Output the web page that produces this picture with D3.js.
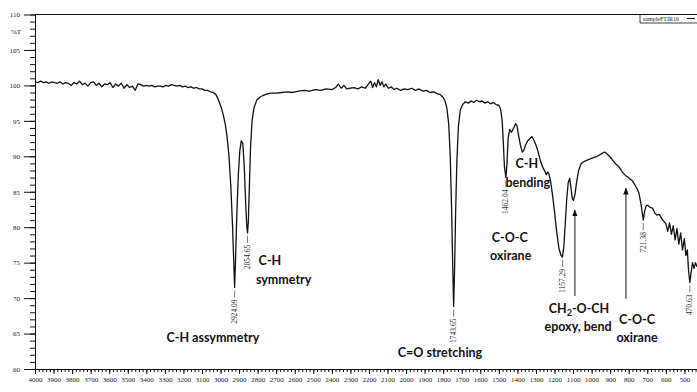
<!DOCTYPE html>
<html>
<head>
<meta charset="utf-8">
<script src="https://cdn.jsdelivr.net/npm/d3@7"></script>
<style>
  body { margin: 0; background: #fff; }
  svg { display: block; }
  .tick text { font-family: "Liberation Serif", serif; font-size: 7px; fill: #222; }
  .note { font-family: Lato, "Open Sans", sans-serif; font-weight: 700; font-size: 12.5px; fill: #111; }
  .peak { font-family: "Liberation Serif", serif; font-size: 7.5px; fill: #333; }
</style>
</head>
<body>
<div id="chart"></div>
<script>
// spectrum, wavenumber (cm-1) vs %T
const wavenumber = [
  4000, 3985, 3970, 3955, 3940, 3925, 3910, 3895, 3880, 3865, 3850, 3835, 3820, 3805, 3790, 3775,
  3760, 3745, 3730, 3715, 3700, 3685, 3670, 3655, 3640, 3625, 3610, 3595, 3580, 3565, 3550, 3535,
  3520, 3505, 3490, 3475, 3460, 3445, 3430, 3415, 3400, 3385, 3370, 3355, 3340, 3325, 3310, 3295,
  3280, 3265, 3250, 3235, 3220, 3205, 3190, 3175, 3160, 3145, 3130, 3115, 3100, 3085, 3070, 3055,
  3040, 3025, 3015, 3005, 2995, 2985, 2975, 2965, 2955, 2945, 2935, 2928, 2924.09, 2919, 2912, 2904,
  2896, 2888, 2880, 2872, 2864, 2858, 2854.65, 2850, 2845, 2838, 2830, 2820, 2805, 2785, 2760, 2730,
  2700, 2670, 2640, 2610, 2580, 2550, 2520, 2490, 2460, 2430, 2400, 2380, 2365, 2350, 2335, 2320,
  2300, 2280, 2260, 2240, 2220, 2205, 2190, 2180, 2170, 2160, 2150, 2140, 2130, 2120, 2110, 2095,
  2080, 2065, 2050, 2030, 2010, 1990, 1970, 1950, 1930, 1910, 1890, 1870, 1850, 1830, 1815, 1800,
  1790, 1780, 1770, 1762, 1755, 1749, 1743.65, 1739, 1733, 1726, 1718, 1708, 1695, 1680, 1665, 1650,
  1635, 1620, 1605, 1590, 1575, 1560, 1545, 1530, 1515, 1500, 1490, 1482, 1476, 1470, 1462.04, 1456,
  1450, 1442, 1432, 1420, 1410, 1402, 1394, 1384, 1374, 1366, 1356, 1344, 1332, 1322, 1312, 1300,
  1288, 1276, 1264, 1252, 1244, 1237, 1230, 1222, 1212, 1200, 1188, 1176, 1165, 1157.29, 1150, 1142,
  1134, 1126, 1118, 1111, 1104, 1098, 1090, 1080, 1070, 1058, 1045, 1030, 1010, 990, 970, 950,
  930, 915, 900, 885, 870, 855, 840, 828, 818, 806, 794, 782, 770, 758, 746, 736,
  728, 721.38, 714, 706, 697, 685, 672, 660, 648, 635, 622, 610, 600, 590, 580, 570,
  560, 550, 540, 530, 520, 510, 500, 492, 484, 478, 470.63, 464, 456, 448, 440, 432
];
const transmittance = [
  100.5, 100.4, 100.6, 100.4, 100.5, 100.3, 100.5, 100.4, 100.3, 100.5, 100.2, 100.4, 100.3, 100.0, 100.4, 100.2,
  100.6, 100.1, 100.3, 99.9, 100.4, 100.5, 100.0, 100.3, 99.8, 100.2, 100.1, 100.4, 99.7, 100.2, 99.9, 100.3,
  99.6, 100.1, 99.7, 99.9, 99.3, 100.2, 100.1, 99.9, 100.0, 99.9, 100.0, 99.8, 99.9, 99.9, 99.8, 100.0,
  99.9, 100.1, 100.0, 99.9, 100.0, 99.8, 99.9, 99.7, 99.8, 99.6, 99.7, 99.5, 99.5, 99.3, 99.3, 99.1,
  99.0, 98.7, 98.2, 97.5, 96.8, 95.8, 94.6, 92.8, 90.2, 86.0, 80.0, 74.5, 71.5, 75.5, 82.0, 87.5,
  90.8, 92.2, 91.8, 88.5, 83.0, 80.0, 79.2, 80.8, 85.5, 91.5, 95.0, 96.8, 97.9, 98.4, 98.7, 98.9,
  98.9, 99.0, 99.1, 99.0, 99.2, 99.3, 99.2, 99.4, 99.3, 99.5, 99.4, 99.7, 100.2, 99.6, 100.0, 99.5,
  99.6, 99.7, 99.5, 99.8, 99.6, 100.1, 100.6, 99.7, 100.4, 99.8, 100.8, 100.0, 100.5, 99.8, 100.2, 99.6,
  99.8, 99.4, 99.6, 99.3, 99.5, 99.4, 99.6, 99.3, 99.5, 99.2, 99.3, 99.0, 99.1, 98.8, 98.7, 98.3,
  97.8, 96.8, 94.5, 90.0, 83.0, 75.0, 68.8, 73.5, 82.0, 89.5, 94.2, 96.5, 97.3, 97.7, 97.5, 97.8,
  97.6, 97.9, 97.7, 97.8, 97.5, 97.7, 97.4, 97.6, 97.3, 97.2, 96.6, 95.0, 92.0, 88.6, 87.0, 89.0,
  92.5, 93.8, 93.4, 94.0, 94.6, 94.3, 93.0, 91.6, 90.6, 90.8, 91.6, 92.2, 92.5, 92.8, 92.3, 91.6,
  90.6, 89.4, 88.5, 87.9, 87.4, 87.8, 87.5, 86.6, 84.8, 82.2, 79.3, 77.0, 76.0, 75.8, 77.2, 80.5,
  84.0, 86.3, 86.9, 85.5, 84.0, 83.8, 84.6, 86.5, 88.0, 88.9, 89.2, 89.4, 89.6, 89.8, 90.0, 90.3,
  90.6, 90.3, 89.9, 89.4, 88.9, 88.6, 88.0, 87.6, 87.3, 87.1, 86.8, 86.6, 86.1, 85.6, 84.9, 83.6,
  82.2, 81.0, 82.3, 83.0, 83.1, 82.8, 82.7, 82.0, 81.7, 81.8, 81.2, 80.8, 80.5, 79.4, 80.6, 79.0,
  80.2, 78.2, 79.8, 77.6, 79.2, 76.8, 78.4, 76.0, 76.8, 74.0, 72.2, 73.6, 75.0, 74.2, 75.0, 74.4
];

// picked peaks
const peakWavenumbers = [2924.09, 2854.65, 1743.65, 1462.04, 1157.29, 721.38, 470.63];
const peakLabels = ['2924.09', '2854.65', '1743.65', '1462.04', '1157.29', '721.38', '470.63'];

// axis ticks
const xMajorTicks = d3.range(4000, 499, -100);
const xMinorTicks = d3.range(4000, 431, -20);
const yMajorTicks = d3.range(60, 111, 5);
const yMinorTicks = d3.range(60, 111, 1);

// band assignments: text lines anchored at (wavenumber, %T)
const noteLines = [
  { text: 'C-H assymmetry', wn: 3041, t: 63.8 },
  { text: 'C-H', wn: 2734, t: 74.7 },
  { text: 'symmetry', wn: 2660, t: 72.0 },
  { text: 'C=O stretching', wn: 1817, t: 61.7 },
  { text: 'C-H', wn: 1349, t: 88.3 },
  { text: 'bending', wn: 1344, t: 85.7 },
  { text: 'C-O-C', wn: 1441, t: 77.9 },
  { text: 'oxirane', wn: 1436, t: 75.4 },
  { text: 'CH|2|-O-CH', wn: 1068, t: 67.9 },
  { text: 'epoxy, bend', wn: 1073, t: 65.4 },
  { text: 'C-O-C', wn: 755, t: 66.35 },
  { text: 'oxirane', wn: 755, t: 63.8 }
];
const arrows = [
  { wn: 1090, from: 70.3, to: 82.4 },
  { wn: 815, from: 69.9, to: 85.5 }
];

const W = 697, H = 392;
const svg = d3.select('#chart').append('svg').attr('width', W).attr('height', H);

const x = d3.scaleLinear().domain([4000, 432]).range([35, 697]);
const y = d3.scaleLinear().domain([60, 110]).range([369, 14.5]);

svg.append('defs').append('marker')
  .attr('id', 'head').attr('viewBox', '0 0 10 10').attr('refX', 9).attr('refY', 5)
  .attr('markerWidth', 7).attr('markerHeight', 7).attr('orient', 'auto')
  .append('path').attr('d', 'M0,1 L10,5 L0,9 Z').attr('fill', '#111');

// x axis
svg.append('g').attr('transform', `translate(0,${y(60)})`)
  .call(d3.axisBottom(x).tickValues(xMinorTicks).tickSize(3).tickSizeOuter(0).tickFormat(''));
svg.append('g').attr('transform', `translate(0,${y(60)})`)
  .call(d3.axisBottom(x).tickValues(xMajorTicks).tickSize(5).tickSizeOuter(0).tickPadding(3).tickFormat(d3.format('d')));

// y axis
svg.append('g').attr('transform', `translate(${x(4000)},0)`)
  .call(d3.axisLeft(y).tickValues(yMinorTicks).tickSize(5).tickSizeOuter(0).tickFormat(''));
svg.append('g').attr('transform', `translate(${x(4000)},0)`)
  .call(d3.axisLeft(y).tickValues(yMajorTicks).tickSize(11).tickSizeOuter(0).tickPadding(4).tickFormat(d3.format('d')));

svg.selectAll('.domain, .tick line').attr('stroke', '#111');

svg.append('text').attr('x', 21).attr('y', y(107.5)).attr('dy', '0.32em')
  .attr('text-anchor', 'end')
  .style('font-family', '"Liberation Serif", serif').style('font-size', '7px').attr('fill', '#222').text('%T');

// top frame
svg.append('line').attr('x1', x(4000)).attr('x2', x(432)).attr('y1', y(110)).attr('y2', y(110))
  .attr('stroke', '#111');

// legend
const leg = svg.append('g').attr('transform', `translate(640,${y(110)})`);
leg.append('path').attr('d', 'M0,0 V8.5 H57').attr('fill', 'none').attr('stroke', '#111').attr('stroke-width', 0.8);
leg.append('text').attr('x', 3).attr('y', 6.5).text('sampleFTIR16')
  .style('font-family', '"Liberation Serif", serif').style('font-size', '6px').attr('fill', '#222');
leg.append('line').attr('x1', 47).attr('x2', 55).attr('y1', 4).attr('y2', 4).attr('stroke', '#111');

// spectrum
const pts = wavenumber.map((w, i) => [w, transmittance[i]]);
svg.append('path').datum(pts)
  .attr('fill', 'none').attr('stroke', '#111').attr('stroke-width', 1.3).attr('stroke-linejoin', 'round')
  .attr('d', d3.line().x(d => x(d[0])).y(d => y(d[1])));

// peak labels
peakWavenumbers.forEach((w, i) => {
  const t = transmittance[wavenumber.indexOf(w)];
  const px = x(w), py = y(t);
  svg.append('line').attr('x1', px).attr('x2', px).attr('y1', py + 3).attr('y2', py + 10)
    .attr('stroke', '#444').attr('stroke-width', 0.7);
  svg.append('text').attr('class', 'peak')
    .attr('transform', `translate(${px + 2.5},${py + 12}) rotate(-90)`)
    .attr('text-anchor', 'end').text(peakLabels[i]);
});

// notes
noteLines.forEach(n => {
  const t = svg.append('text').attr('class', 'note').attr('text-anchor', 'middle')
    .attr('x', x(n.wn)).attr('y', y(n.t));
  const parts = n.text.split('|');
  if (parts.length === 1) {
    t.text(n.text);
  } else {
    t.append('tspan').text(parts[0]);
    t.append('tspan').attr('dy', 3).style('font-size', '9px').text(parts[1]);
    t.append('tspan').attr('dy', -3).text(parts[2]);
  }
});

arrows.forEach(a => {
  svg.append('line').attr('x1', x(a.wn)).attr('x2', x(a.wn)).attr('y1', y(a.from)).attr('y2', y(a.to))
    .attr('stroke', '#111').attr('stroke-width', 1).attr('marker-end', 'url(#head)');
});
</script>
</body>
</html>
